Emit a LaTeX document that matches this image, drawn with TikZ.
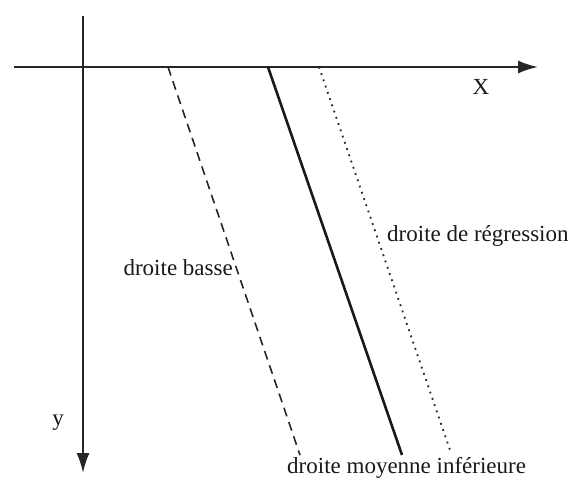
\documentclass[tikz,border=0pt]{standalone}
\usepackage{fontspec}
\setmainfont{Liberation Serif}
\usetikzlibrary{arrows.meta,positioning}
\tikzset{
  axarr/.style={-{Latex[length=20pt, width=13pt]}, line width=2pt, black!85},
  bssln/.style={line width=1.6pt, dash pattern=on 9pt off 6pt, black!85},
  moyln/.style={line width=2.6pt, black!90},
  regln/.style={line width=1.8pt, dash pattern=on 1.8pt off 4.8pt, black!85},
  lbl/.style={font=\fontsize{23}{27}\selectfont, text=black!90, inner sep=0pt},
}
\begin{document}
\begin{tikzpicture}[x=1pt, y=-1pt]
   \useasboundingbox (0,0) rectangle (576,480);
   % axes
   \coordinate (xl) at (14,67);
   \coordinate (xr) at (538,67);
   \coordinate (yt) at (83,16);
   \coordinate (yb) at (83,473);
   \draw[axarr] (xl) -- (xr);
   \draw[axarr] (yt) -- (yb);
   \node[lbl] (xlab) at (481,87) {X};
   \node[lbl] (ylab) at (58,423) {y};
   % droites
   \coordinate (bs0) at (168,67);
   \coordinate (bs1) at (300,455);
   \coordinate (my0) at (268,67);
   \coordinate (my1) at (402,455);
   \coordinate (rg0) at (319,67);
   \coordinate (rg1) at (450,450);
   \draw[bssln] (bs0) -- (bs1);
   \draw[moyln] (my0) -- (my1);
   \draw[regln] (rg0) -- (rg1);
   \node[lbl, anchor=east] (bslab) at (233,268) {droite basse};
   \node[lbl, anchor=west] (rglab) at (387,236) {droite de régression};
   \node[lbl, anchor=west] (mylab) at (287,468) {droite moyenne inférieure};
\end{tikzpicture}
\end{document}
